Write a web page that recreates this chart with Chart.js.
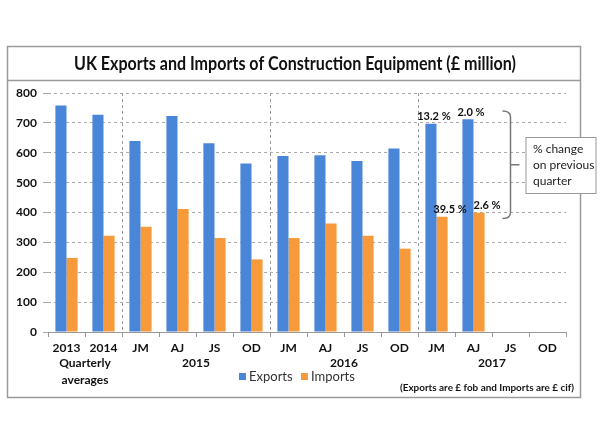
<!DOCTYPE html>
<html>
<head>
<meta charset="utf-8">
<script src="https://cdn.jsdelivr.net/npm/chart.js@4"></script>
<style>
  html, body { margin: 0; padding: 0; background: #fff; }
  #wrap { width: 600px; height: 440px; }
</style>
</head>
<body>
<div id="wrap"><canvas id="c" width="600" height="440"></canvas></div>
<script>
// 季度標籤與數值
const quarters = ['2013', '2014', 'JM', 'AJ', 'JS', 'OD', 'JM', 'AJ', 'JS', 'OD', 'JM', 'AJ', 'JS', 'OD'];
const exportsData = [758, 727, 639, 723, 632, 564, 589, 592, 572, 614, 697, 712, null, null];
const importsData = [248, 322, 352, 412, 315, 243, 315, 363, 322, 279, 386, 399, null, null];
const exportPct = [null, null, null, null, null, null, null, null, null, null, '13.2 %', '2.0 %', null, null];
const importPct = [null, null, null, null, null, null, null, null, null, null, '39.5 %', '2.6 %', null, null];
const groupLabels = [
  { text: ['Quarterly', 'averages'], from: 0, to: 1 },
  { text: ['2015'], from: 2, to: 5 },
  { text: ['2016'], from: 6, to: 9 },
  { text: ['2017'], from: 10, to: 13 }
];
const separatorsAfter = [1, 5, 9];
const noteLines = ['% change', 'on previous', 'quarter'];
const titleText = 'UK Exports and Imports of Construction Equipment (£ million)';
const footText = '(Exports are £ fob and Imports are £ cif)';

const FONT = 'Lato, "Open Sans", sans-serif';

// 外框、標題、分組標籤、註解
const decorPlugin = {
  id: 'decor',
  beforeDraw(chart) {
    const ctx = chart.ctx;
    ctx.save();
    ctx.fillStyle = '#fff';
    ctx.fillRect(0, 0, chart.width, chart.height);
    ctx.strokeStyle = '#9a9a9a';
    ctx.lineWidth = 1.5;
    ctx.strokeRect(7.5, 46.5, 573, 351);
    ctx.beginPath();
    ctx.moveTo(7.5, 80.5);
    ctx.lineTo(580.5, 80.5);
    ctx.stroke();
    ctx.fillStyle = '#111';
    ctx.font = 'bold 18px ' + FONT;
    ctx.textAlign = 'center';
    ctx.textBaseline = 'middle';
    ctx.fillText(titleText, 295, 64, 442);
    ctx.restore();
  },
  beforeDatasetsDraw(chart) {
    const ctx = chart.ctx;
    const x = chart.scales.x;
    const area = chart.chartArea;
    ctx.save();
    ctx.strokeStyle = '#9a9a9a';
    ctx.lineWidth = 1;
    ctx.setLineDash([3, 3]);
    separatorsAfter.forEach(i => {
      const px = Math.round((x.getPixelForValue(i) + x.getPixelForValue(i + 1)) / 2) + 0.5;
      ctx.beginPath();
      ctx.moveTo(px, area.top);
      ctx.lineTo(px, area.bottom);
      ctx.stroke();
    });
    ctx.restore();
  },
  afterDraw(chart) {
    const ctx = chart.ctx;
    const x = chart.scales.x;
    const y = chart.scales.y;
    ctx.save();
    // 分組標籤
    ctx.fillStyle = '#111';
    ctx.font = 'bold 12px ' + FONT;
    ctx.textAlign = 'center';
    ctx.textBaseline = 'middle';
    groupLabels.forEach(g => {
      const cx = (x.getPixelForValue(g.from) + x.getPixelForValue(g.to)) / 2;
      g.text.forEach((t, k) => ctx.fillText(t, cx, 363 + k * 17));
    });

    // 百分比標籤
    ctx.font = 'bold 11px ' + FONT;
    const m0 = chart.getDatasetMeta(0).data;
    const m1 = chart.getDatasetMeta(1).data;
    exportPct.forEach((t, i) => {
      if (t) ctx.fillText(t, m0[i].x + 3, m0[i].y - 7);
    });
    importPct.forEach((t, i) => {
      if (t) ctx.fillText(t, m1[i].x + 8, m1[i].y - 7);
    });

    // 括號
    const bx = x.getPixelForValue(12);
    const top = y.getPixelForValue(740);
    const bot = y.getPixelForValue(380);
    const mid = (top + bot) / 2;
    ctx.strokeStyle = '#777';
    ctx.lineWidth = 1.5;
    ctx.beginPath();
    ctx.moveTo(bx - 8, top);
    ctx.quadraticCurveTo(bx, top, bx, top + 6);
    ctx.lineTo(bx, bot - 6);
    ctx.quadraticCurveTo(bx, bot, bx - 8, bot);
    ctx.moveTo(bx, mid);
    ctx.lineTo(bx + 9, mid);
    ctx.stroke();

    // 註解框
    const boxL = bx + 15.5, boxT = 137.5, boxW = 70, boxH = 56;
    ctx.fillStyle = '#fff';
    ctx.fillRect(boxL, boxT, boxW, boxH);
    ctx.strokeStyle = '#999';
    ctx.lineWidth = 1;
    ctx.strokeRect(boxL, boxT, boxW, boxH);
    ctx.fillStyle = '#222';
    ctx.font = '12px ' + FONT;
    ctx.textAlign = 'left';
    noteLines.forEach((t, k) => ctx.fillText(t, boxL + 7, 149 + k * 16));

    // 圖例
    ctx.font = '13px ' + FONT;
    ctx.textBaseline = 'middle';
    let lx = 239;
    chart.data.datasets.forEach(ds => {
      ctx.fillStyle = ds.backgroundColor;
      ctx.fillRect(lx, 373, 7, 7);
      ctx.fillStyle = '#333';
      ctx.fillText(ds.label, lx + 10, 377);
      lx += 62;
    });

    // 註腳
    ctx.fillStyle = '#111';
    ctx.font = 'bold 10px ' + FONT;
    ctx.textAlign = 'right';
    ctx.fillText(footText, 574, 388, 174);
    ctx.restore();
  }
};

new Chart(document.getElementById('c'), {
  type: 'bar',
  data: {
    labels: quarters,
    datasets: [
      { label: 'Exports', data: exportsData, backgroundColor: '#4a86d8' },
      { label: 'Imports', data: importsData, backgroundColor: '#f79a3c' }
    ]
  },
  options: {
    responsive: false,
    animation: false,
    categoryPercentage: 0.6,
    barPercentage: 1.0,
    layout: { padding: { left: 8, top: 93, right: 34, bottom: 0 } },
    plugins: {
      legend: { display: false },
      title: { display: false },
      tooltip: { enabled: false }
    },
    scales: {
      x: {
        afterFit(s) { s.height = 108; },
        grid: { drawOnChartArea: false, drawTicks: true, tickLength: 5, color: '#999', offset: true },
        border: { display: true, color: '#999' },
        ticks: { color: '#111', font: { family: FONT, size: 12, weight: 'bold' }, padding: 4, maxRotation: 0, autoSkip: false }
      },
      y: {
        min: 0,
        max: 800,
        afterFit(s) { s.width = 40; },
        ticks: { stepSize: 100, color: '#111', font: { family: FONT, size: 12, weight: 'bold' }, padding: 6 },
        grid: { color: '#aaa', tickLength: 5 },
        border: { display: false, dash: [3, 3] }
      }
    }
  },
  plugins: [decorPlugin]
});
</script>
</body>
</html>
